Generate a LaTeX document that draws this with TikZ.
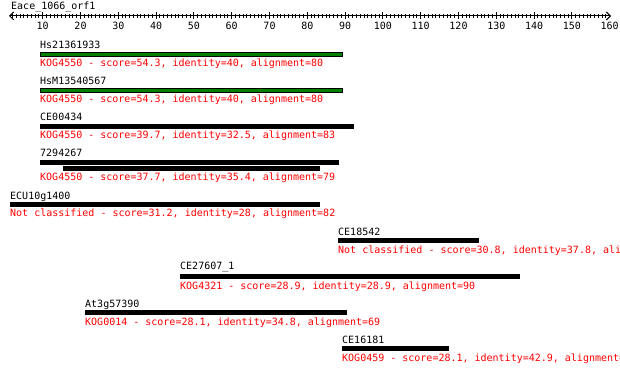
\documentclass[tikz,border=0pt]{standalone}
\usepackage{fontspec}
\setmonofont{DejaVu Sans Mono}
\usetikzlibrary{arrows.meta}
\definecolor{hitgreen}{RGB}{0,128,0}
\tikzset{
  seqname/.style={anchor=base west,inner sep=0pt,font=\ttfamily\fontsize{10}{12}\selectfont},
  kogline/.style={seqname,text=red},
  hitbar/.style={fill=black,draw=none},
  bestbar/.style={fill=hitgreen,draw=black,line width=1pt},
}

\begin{document}
\begin{tikzpicture}[x=1pt,y=-1pt]
      \clip (0,0) rectangle (620,371);

      % query axis
      \node[seqname] (query) at (11,9.2) {Eace\_1066\_orf1};
      \draw[line width=1pt,{Straight Barb[length=4pt,width=8pt]}-{Straight Barb[length=4pt,width=8pt]}] (9,16) -- (611,16);
      \foreach \u in {2,...,159} \draw[line width=1pt] (4.9+3.78*\u,14.2) -- ++(0,3.8);
      \foreach \u in {10,20,...,150} \draw[line width=1pt] (4.9+3.78*\u,12.5) -- ++(0,7);
      \foreach \u in {10,20,...,160} \node[seqname,anchor=base] (t\u) at (4.9+3.78*\u,30) {\u};

      % hits
      \node[seqname] (hs21361933) at (40,48.5) {Hs21361933};
      \draw[bestbar] (40.5,52.8) rectangle (342.5,56.2);
      \node[kogline] (kog1) at (40,66.5) {KOG4550 - score=54.3, identity=40, alignment=80};

      \node[seqname] (hsm13540567) at (40,85) {HsM13540567};
      \draw[bestbar] (40.5,88.8) rectangle (342.5,92.2);
      \node[kogline] (kog2) at (40,103) {KOG4550 - score=54.3, identity=40, alignment=80};

      \node[seqname] (ce00434) at (40,121) {CE00434};
      \draw[hitbar] (40,124) rectangle (354,129);
      \node[kogline] (kog3) at (40,139) {KOG4550 - score=39.7, identity=32.5, alignment=83};

      \node[seqname] (n7294267) at (40,157) {7294267};
      \draw[hitbar] (40,160) rectangle (339,165);
      \draw[hitbar] (63,165.7) rectangle (320,170.7);
      \node[kogline] (kog4) at (40,181) {KOG4550 - score=37.7, identity=35.4, alignment=79};

      \node[seqname] (ecu10g1400) at (10,199.3) {ECU10g1400};
      \draw[hitbar] (10,202) rectangle (320,207);
      \node[kogline] (kog5) at (10,217) {Not classified - score=31.2, identity=28, alignment=82};

      \node[seqname] (ce18542) at (338,235) {CE18542};
      \draw[hitbar] (338,237.7) rectangle (479,242.7);
      \node[kogline] (kog6) at (338,253) {Not classified - score=30.8, identity=37.8, ali};

      \node[seqname] (ce27607) at (180,269.8) {CE27607\_1};
      \draw[hitbar] (180,274.3) rectangle (520,279);
      \node[kogline] (kog7) at (180,289) {KOG4321 - score=28.9, identity=28.9, alignment=90};

      \node[seqname] (at3g57390) at (85,307) {At3g57390};
      \draw[hitbar] (85,310) rectangle (347,315);
      \node[kogline] (kog8) at (85,325) {KOG0014 - score=28.1, identity=34.8, alignment=69};

      \node[seqname] (ce16181) at (342,343) {CE16181};
      \draw[hitbar] (342,345.7) rectangle (449,350.7);
      \node[kogline] (kog9) at (342,361.7) {KOG0459 - score=28.1, identity=42.9, alignment=};
\end{tikzpicture}
\end{document}
